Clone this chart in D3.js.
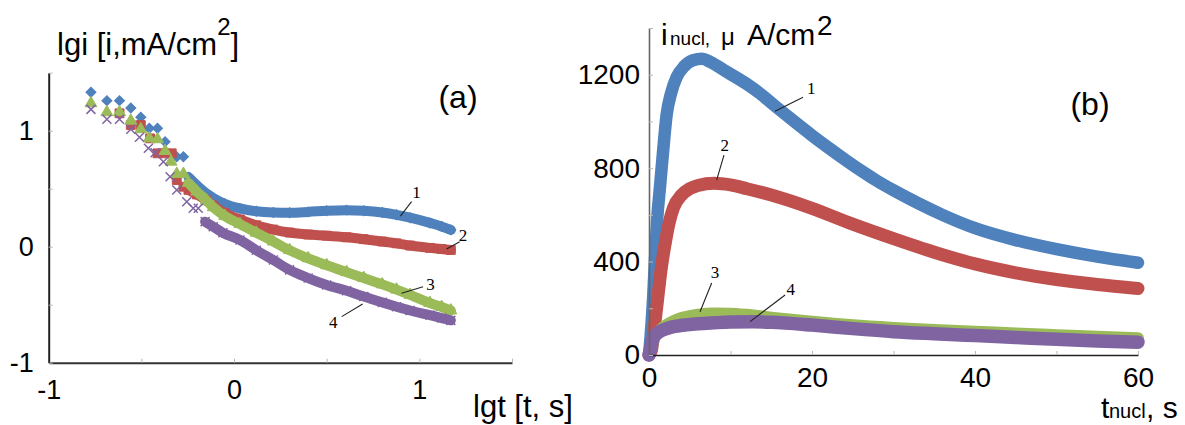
<!DOCTYPE html>
<html>
<head>
<meta charset="utf-8">
<script src="https://cdn.jsdelivr.net/npm/d3@7"></script>
<style>
  body { margin: 0; background: #fff; }
  svg { display: block; }
</style>
</head>
<body>
<svg id="chart" width="1185" height="425"></svg>
<script>
// ---------- Panel (a): lg i vs lg t ----------
const lgtTicks = [-1, -0.5, 0, 0.5, 1, 1.5];
const lgiTicks = [-1, -0.5, 0, 0.5, 1, 1.5];

// curve 1
const lgtA1 = [-0.772, -0.686, -0.618, -0.557, -0.503, -0.457, -0.413, -0.372, -0.309, -0.273,
               -0.246, -0.201, -0.15, -0.112, -0.05, 0.032, 0.12, 0.212, 0.30, 0.40, 0.50, 0.608, 0.70, 0.80, 0.877, 0.95, 1.057, 1.12, 1.17];
const lgiA1 = [1.331, 1.259, 1.259, 1.196, 1.116, 1.021, 1.021, 0.905, 0.776, 0.776,
               0.60, 0.53, 0.46, 0.42, 0.37, 0.33, 0.305, 0.295, 0.293, 0.30, 0.31, 0.315, 0.31, 0.295, 0.275, 0.25, 0.205, 0.175, 0.145];
// curve 2
const lgtA2 = [-0.618, -0.557, -0.503, -0.453, -0.413, -0.372, -0.336, -0.309, -0.273,
               -0.246, -0.201, -0.15, -0.112, -0.05, 0.032, 0.12, 0.212, 0.30, 0.40, 0.50, 0.608, 0.70, 0.80, 0.877, 0.95, 1.057, 1.12, 1.17];
const lgiA2 = [1.15, 1.049, 1.049, 0.934, 0.805, 0.805, 0.805, 0.575, 0.517,
               0.49, 0.45, 0.40, 0.355, 0.29, 0.235, 0.185, 0.148, 0.122, 0.105, 0.095, 0.081, 0.065, 0.045, 0.029, 0.01, -0.01, -0.02, -0.028];
// curve 3
const lgtA3 = [-0.772, -0.686, -0.618, -0.557, -0.503, -0.457, -0.413, -0.372, -0.34, -0.309, -0.273,
               -0.246, -0.201, -0.15, -0.112, -0.05, 0.032, 0.12, 0.212, 0.30, 0.40, 0.50, 0.608, 0.70, 0.80, 0.877, 0.95, 1.057, 1.12, 1.17];
const lgiA3 = [1.236, 1.159, 1.159, 1.086, 1.012, 0.934, 0.926, 0.825, 0.733, 0.627, 0.627,
               0.55, 0.475, 0.40, 0.34, 0.265, 0.195, 0.12, 0.045, -0.03, -0.10, -0.16, -0.22, -0.27, -0.325, -0.37, -0.415, -0.485, -0.52, -0.55];
// curve 4
const lgtA4 = [-0.772, -0.686, -0.618, -0.557, -0.51, -0.462, -0.426, -0.381, -0.345, -0.309, -0.255, -0.22, -0.193, -0.156, -0.112,
               -0.06, 0.032, 0.12, 0.212, 0.30, 0.40, 0.50, 0.608, 0.70, 0.80, 0.877, 0.95, 1.057, 1.12, 1.17];
const lgiA4 = [1.184, 1.098, 1.098, 1.012, 0.943, 0.848, 0.81, 0.733, 0.603, 0.489, 0.388, 0.331, 0.331, 0.216, 0.172,
               0.12, 0.058, -0.03, -0.115, -0.2, -0.27, -0.33, -0.38, -0.43, -0.48, -0.517, -0.55, -0.59, -0.615, -0.635];
// lg t from which the points merge into a continuous band
const bandStartA = [-0.26, -0.26, -0.26, -0.16];

// ---------- Panel (b): nucleation current transients ----------
const tTicks = [0, 10, 20, 30, 40, 50, 60];
const iTicks = [0, 200, 400, 600, 800, 1000, 1200, 1400];

const tB1 = [0, 0.2, 0.5, 0.75, 1, 1.35, 1.7, 2.17, 2.7, 3.4, 4.3, 5.4, 6.5, 7.5, 9.5, 12, 13.6, 15.5, 17.7, 20, 22, 24, 26, 28, 30, 33, 36, 40, 45, 50, 55, 60];
const iB1 = [0, 80, 240, 420, 580, 720, 860, 1030, 1120, 1190, 1235, 1262, 1268, 1255, 1213, 1160, 1120, 1065, 1003, 940, 888, 838, 790, 745, 705, 650, 600, 543, 492, 453, 421, 395];
const tB2 = [0, 0.3, 0.6, 1, 1.5, 2, 2.5, 3, 4, 5, 6, 8, 10, 12, 15, 20, 25, 30, 35, 40, 45, 50, 55, 60];
const iB2 = [0, 20, 100, 220, 370, 480, 570, 630, 685, 712, 726, 735, 728, 712, 685, 628, 560, 498, 440, 390, 352, 323, 302, 285];
const tB3 = [0, 0.3, 0.6, 1, 1.5, 2, 3, 4, 5, 6, 8, 10, 12, 15, 20, 25, 30, 35, 40, 45, 50, 55, 60];
const iB3 = [0, 40, 70, 92, 110, 125, 145, 158, 167, 173, 178, 177, 172, 160, 142, 127, 116, 107, 100, 92, 85, 78, 72];
const tB4 = [0, 0.3, 0.6, 1, 1.7, 2.5, 3.5, 4.6, 6, 8, 10, 12.8, 15, 20, 25, 30, 35, 40, 45, 50, 55, 60];
const iB4 = [0, 45, 78, 92, 107, 117, 124, 129, 134, 138, 141, 142, 140, 128, 113, 100, 91, 83, 75, 67, 60, 55];

const curveLabels = ["1", "2", "3", "4"];
const colors = ["#4F81BD", "#C0504D", "#9BBB59", "#8064A2"];

// numbered call-outs, in data units: leader line start (on curve), leader end, label centre
const notesA = [
  { from: [0.898, 0.264], to: [0.958, 0.388], at: [0.985, 0.47] },
  { from: [1.147, -0.02], to: [1.218, 0.043], at: [1.236, 0.10] },
  { from: [0.904, -0.402], to: [1.02, -0.345], at: [1.06, -0.32] },
  { from: [0.694, -0.494], to: [0.581, -0.603], at: [0.535, -0.65] }
];
const notesB = [
  { from: [15.46, 1044], to: [18.9, 1104], at: [19.9, 1145] },
  { from: [8.3, 749], to: [9.2, 856], at: [9.3, 900] },
  { from: [6.26, 185], to: [7.69, 308], at: [8.1, 355] },
  { from: [12.4, 143], to: [16.7, 257], at: [17.4, 282] }
];

// ---------- drawing ----------
const svg = d3.select("#chart");
const SANS = "'Liberation Sans', Arial, sans-serif";
const SERIF = "'Liberation Serif', 'Times New Roman', serif";
const zip = (a, b) => a.map((v, i) => [v, b[i]]);
const fmtInt = d => Number.isInteger(d) ? (d < 0 ? "-" + (-d) : String(d)) : "";

function styleAxis(g, lineColor, lineWidth, fontSize) {
  g.select(".domain").attr("stroke", lineColor).attr("stroke-width", lineWidth);
  g.selectAll(".tick line").attr("stroke", "#b8b8b8").attr("stroke-width", 1);
  g.selectAll(".tick text").attr("fill", "#000").style("font-family", SANS).style("font-size", fontSize + "px");
}

// ----- panel (a) -----
const xA = d3.scaleLinear().domain([-1, 1.5]).range([48.7, 512]);
const yA = d3.scaleLinear().domain([-1, 1.5]).range([362.7, 72.7]);

const gA = svg.append("g");
const seriesA = [[lgtA1, lgiA1], [lgtA2, lgiA2], [lgtA3, lgiA3], [lgtA4, lgiA4]];
const lineA = d3.line().x(d => xA(d[0])).y(d => yA(d[1])).curve(d3.curveMonotoneX);

const shapes = [
  g => g.append("path").attr("d", d3.symbol(d3.symbolSquare, 50)()).attr("transform", "rotate(45)"),
  g => g.append("path").attr("d", d3.symbol(d3.symbolSquare, 78)()),
  g => g.append("path").attr("d", d3.symbol(d3.symbolTriangle, 62)()),
  g => g.append("path").attr("d", "M-4.5,-4.5L4.5,4.5M4.5,-4.5L-4.5,4.5").attr("fill", "none").attr("stroke-width", 1.5)
];

seriesA.forEach(([xs, ys], k) => {
  const pts = zip(xs, ys);
  const band = pts.filter(p => p[0] >= bandStartA[k]);
  gA.append("path").datum(band)
    .attr("d", lineA)
    .attr("fill", "none")
    .attr("stroke", colors[k])
    .attr("stroke-width", 10)
    .attr("stroke-linecap", "round")
    .attr("stroke-linejoin", "round");
  const mk = gA.append("g").attr("fill", colors[k]).attr("stroke", colors[k]);
  pts.forEach(p => {
    const m = mk.append("g").attr("transform", `translate(${xA(p[0])},${yA(p[1])})`);
    shapes[k](m);
  });
});

const axXA = gA.append("g").attr("transform", `translate(0,${yA(-1)})`)
  .call(d3.axisBottom(xA).tickValues(lgtTicks).tickSizeInner(-4).tickSizeOuter(0).tickPadding(17).tickFormat(fmtInt));
styleAxis(axXA, "#333", 2, 27);
const axYA = gA.append("g").attr("transform", `translate(${xA(-1)},0)`)
  .call(d3.axisLeft(yA).tickValues(lgiTicks).tickSizeInner(-4).tickSizeOuter(0).tickPadding(15).tickFormat(fmtInt));
styleAxis(axYA, "#222", 2, 27);

// call-outs
function drawNotes(g, notes, sx, sy) {
  notes.forEach((n, k) => {
    g.append("line")
      .attr("x1", sx(n.from[0])).attr("y1", sy(n.from[1]))
      .attr("x2", sx(n.to[0])).attr("y2", sy(n.to[1]))
      .attr("stroke", "#222").attr("stroke-width", 1.1);
    g.append("text")
      .attr("x", sx(n.at[0])).attr("y", sy(n.at[1]))
      .attr("dy", "0.35em").attr("text-anchor", "middle")
      .style("font-family", SERIF).style("font-size", "17px")
      .text(curveLabels[k]);
  });
}
drawNotes(gA, notesA, xA, yA);

// titles
const tA = gA.append("text").attr("x", 57).attr("y", 55).style("font-family", SANS).attr("fill", "#000");
tA.append("tspan").style("font-size", "31px").text("lgi [i,mA/cm");
tA.append("tspan").style("font-size", "24px").attr("dy", -20).text("2");
tA.append("tspan").style("font-size", "31px").attr("dy", 20).text("]");

gA.append("text").attr("x", 473).attr("y", 417).style("font-family", SANS).style("font-size", "31px").text("lgt [t, s]");
gA.append("text").attr("x", 458).attr("y", 108).attr("text-anchor", "middle").style("font-family", SANS).style("font-size", "32px").text("(a)");

// ----- panel (b) -----
const xB = d3.scaleLinear().domain([0, 60]).range([649, 1138]);
const yB = d3.scaleLinear().domain([0, 1400]).range([355, 28]);
const gB = svg.append("g");
const seriesB = [[tB1, iB1], [tB2, iB2], [tB3, iB3], [tB4, iB4]];
const lineB = d3.line().x(d => xB(d[0])).y(d => yB(d[1])).curve(d3.curveMonotoneX);
const bandW = [12.5, 13, 12, 13.5];

seriesB.forEach(([xs, ys], k) => {
  gB.append("path").datum(zip(xs, ys))
    .attr("d", lineB)
    .attr("fill", "none")
    .attr("stroke", colors[k])
    .attr("stroke-width", bandW[k])
    .attr("stroke-linecap", "round")
    .attr("stroke-linejoin", "round");
});

const axXB = gB.append("g").attr("transform", `translate(0,${yB(0)})`)
  .call(d3.axisBottom(xB).tickValues(tTicks).tickSizeInner(-4).tickSizeOuter(0).tickPadding(12)
    .tickFormat(d => d % 20 === 0 ? String(d) : ""));
styleAxis(axXB, "#222", 1.6, 28);
const axYB = gB.append("g").attr("transform", `translate(${xB(0)},0)`)
  .call(d3.axisLeft(yB).tickValues(iTicks).tickSizeInner(-4).tickSizeOuter(0).tickPadding(9)
    .tickFormat(d => d % 400 === 0 ? String(d) : ""));
styleAxis(axYB, "#666", 1.6, 28);

drawNotes(gB, notesB, xB, yB);

const tB = gB.append("text").attr("y", 45).style("font-family", SANS).attr("fill", "#000");
tB.append("tspan").attr("x", 661).style("font-size", "30px").text("i");
tB.append("tspan").attr("x", 670).style("font-size", "19px").text("nucl,");
tB.append("tspan").attr("x", 721).style("font-size", "24px").text("μ");
tB.append("tspan").attr("x", 747).style("font-size", "30px").text("A/cm");
tB.append("tspan").attr("x", 817).attr("y", 35).style("font-size", "28px").text("2");

const xtB = gB.append("text").attr("y", 418).style("font-family", SANS).attr("fill", "#000");
xtB.append("tspan").attr("x", 1101).style("font-size", "30px").text("t");
xtB.append("tspan").attr("x", 1109).style("font-size", "20px").text("nucl");
xtB.append("tspan").attr("x", 1146).style("font-size", "30px").text(", s");

gB.append("text").attr("x", 1090).attr("y", 115).attr("text-anchor", "middle").style("font-family", SANS).style("font-size", "32px").text("(b)");
</script>
</body>
</html>
